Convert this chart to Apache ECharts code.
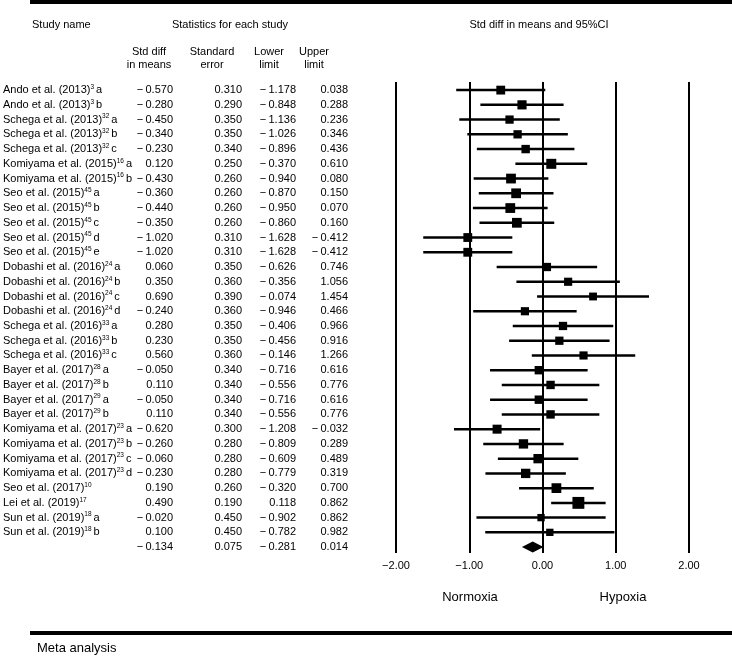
<!DOCTYPE html>
<html>
<head>
<meta charset="utf-8">
<script src="https://cdn.jsdelivr.net/npm/echarts@6/dist/echarts.min.js"></script>
<style>html,body{margin:0;padding:0;background:#fff}#c{width:732px;height:660px}</style>
</head>
<body>
<div id="c"></div>
<script>
// ---- data ----
var studyNames = ["Ando et al. (2013)","Ando et al. (2013)","Schega et al. (2013)","Schega et al. (2013)","Schega et al. (2013)",
  "Komiyama et al. (2015)","Komiyama et al. (2015)","Seo et al. (2015)","Seo et al. (2015)","Seo et al. (2015)","Seo et al. (2015)","Seo et al. (2015)",
  "Dobashi et al. (2016)","Dobashi et al. (2016)","Dobashi et al. (2016)","Dobashi et al. (2016)",
  "Schega et al. (2016)","Schega et al. (2016)","Schega et al. (2016)",
  "Bayer et al. (2017)","Bayer et al. (2017)","Bayer et al. (2017)","Bayer et al. (2017)",
  "Komiyama et al. (2017)","Komiyama et al. (2017)","Komiyama et al. (2017)","Komiyama et al. (2017)",
  "Seo et al. (2017)","Lei et al. (2019)","Sun et al. (2019)","Sun et al. (2019)"];
var studyRefs = ["3","3","32","32","32","16","16","45","45","45","45","45","24","24","24","24","33","33","33",
  "28","28","29","29","23","23","23","23","10","17","18","18"];
var studySuffix = ["a","b","a","b","c","a","b","a","b","c","d","e","a","b","c","d","a","b","c",
  "a","b","a","b","a","b","c","d","","","a","b"];
var stdDiff = [-0.570,-0.280,-0.450,-0.340,-0.230,0.120,-0.430,-0.360,-0.440,-0.350,-1.020,-1.020,
  0.060,0.350,0.690,-0.240,0.280,0.230,0.560,-0.050,0.110,-0.050,0.110,-0.620,-0.260,-0.060,-0.230,
  0.190,0.490,-0.020,0.100];
var stdErr = [0.310,0.290,0.350,0.350,0.340,0.250,0.260,0.260,0.260,0.260,0.310,0.310,
  0.350,0.360,0.390,0.360,0.350,0.350,0.360,0.340,0.340,0.340,0.340,0.300,0.280,0.280,0.280,
  0.260,0.190,0.450,0.450];
var lowerLimit = [-1.178,-0.848,-1.136,-1.026,-0.896,-0.370,-0.940,-0.870,-0.950,-0.860,-1.628,-1.628,
  -0.626,-0.356,-0.074,-0.946,-0.406,-0.456,-0.146,-0.716,-0.556,-0.716,-0.556,-1.208,-0.809,-0.609,-0.779,
  -0.320,0.118,-0.902,-0.782];
var upperLimit = [0.038,0.288,0.236,0.346,0.436,0.610,0.080,0.150,0.070,0.160,-0.412,-0.412,
  0.746,1.056,1.454,0.466,0.966,0.916,1.266,0.616,0.776,0.616,0.776,-0.032,0.289,0.489,0.319,
  0.700,0.862,0.862,0.982];
var summary = {stdDiff:-0.134, stdErr:0.075, lower:-0.281, upper:0.014};
var xTicks = [-2, -1, 0, 1, 2];

// ---- helpers ----
var FONT = "Liberation Sans, Arial, sans-serif";
function fmt(v, d) { return (v < 0 ? "\u2212\u2009" : "") + Math.abs(v).toFixed(d); }
function fmtTick(v) { return (v < 0 ? "\u2212" : "") + Math.abs(v).toFixed(2); }
var nRows = studyNames.length + 1;
var yAxisCfg = { type: 'value', inverse: true, min: -0.55, max: nRows - 0.6, show: false };

var studyRows = studyNames.map(function (n, i) {
  return [i, stdDiff[i], stdErr[i], lowerLimit[i], upperLimit[i]];
});

// table rows (text)
var tableRows = [];
studyNames.forEach(function (n, i) {
  tableRows.push({ row: i, name: n, ref: studyRefs[i], suf: studySuffix[i],
    vals: [stdDiff[i], stdErr[i], lowerLimit[i], upperLimit[i]] });
});
tableRows.push({ row: studyNames.length, name: null,
  vals: [summary.stdDiff, summary.stdErr, summary.lower, summary.upper] });

var colRight = [173, 242, 296, 348];
var NAME_X = 3;

var chart = echarts.init(document.getElementById('c'), null, { renderer: 'canvas' });

var option = {
  animation: false,
  backgroundColor: '#fff',
  grid: [
    { left: 396, top: 82, width: 293, height: 471 },
    { left: 0, top: 82, width: 360, height: 471 }
  ],
  xAxis: [
    { type: 'value', gridIndex: 0, min: -2, max: 2, interval: 1,
      axisLine: { show: false }, axisTick: { show: false },
      axisLabel: { margin: 7, color: '#000', fontFamily: FONT, fontSize: 11,
        formatter: fmtTick, customValues: xTicks },
      splitLine: { show: true, lineStyle: { color: '#000', width: 2 } } },
    { type: 'value', gridIndex: 1, min: 0, max: 360, show: false }
  ],
  yAxis: [
    Object.assign({ gridIndex: 0 }, yAxisCfg),
    Object.assign({ gridIndex: 1 }, yAxisCfg)
  ],
  series: [
    { type: 'custom', xAxisIndex: 0, yAxisIndex: 0,
      data: studyRows,
      renderItem: function (params, api) {
        var row = api.value(0), m = api.value(1), se = api.value(2), lo = api.value(3), hi = api.value(4);
        var pL = api.coord([lo, row]), pH = api.coord([hi, row]), pM = api.coord([m, row]);
        var s = 4 + 1.5 / se;
        return { type: 'group', children: [
          { type: 'line', shape: { x1: pL[0], y1: pL[1], x2: pH[0], y2: pH[1] },
            style: { stroke: '#000', lineWidth: 2.5 } },
          { type: 'rect', shape: { x: pM[0] - s / 2, y: pM[1] - s / 2, width: s, height: s },
            style: { fill: '#000' } }
        ] };
      } },
    { type: 'custom', xAxisIndex: 0, yAxisIndex: 0,
      data: [[studyNames.length, summary.stdDiff, summary.lower, summary.upper]],
      renderItem: function (params, api) {
        var row = api.value(0);
        var pM = api.coord([api.value(1), row]), pL = api.coord([api.value(2), row]), pH = api.coord([api.value(3), row]);
        var h = 5.5;
        return { type: 'polygon', shape: { points: [[pL[0], pM[1]], [pM[0], pM[1] - h], [pH[0], pM[1]], [pM[0], pM[1] + h]] },
          style: { fill: '#000' } };
      } },
    { type: 'custom', xAxisIndex: 1, yAxisIndex: 1,
      data: tableRows.map(function (r, i) { return [r.row, i]; }),
      renderItem: function (params, api) {
        var r = tableRows[api.value(1)];
        var children = [];
        var y = api.coord([0, r.row])[1];
        if (r.name) {
          var txt = '{n|' + r.name + '}' + (r.ref ? '{s|' + r.ref + '}' : '') + (r.suf ? '{n|' + r.suf + '}' : '');
          children.push({ type: 'text', x: api.coord([NAME_X, r.row])[0], y: y,
            style: { text: txt, textAlign: 'left', textVerticalAlign: 'middle',
              rich: { n: { fontFamily: FONT, fontSize: 11, fill: '#000', lineHeight: 13, verticalAlign: 'middle' },
                      s: { fontFamily: FONT, fontSize: 6.5, fill: '#000', lineHeight: 13, verticalAlign: 'top', padding: [0, 2, 0, 0] } } } });
        }
        r.vals.forEach(function (v, k) {
          children.push({ type: 'text', x: api.coord([colRight[k], r.row])[0], y: y,
            style: { text: fmt(v, 3), textAlign: 'right', textVerticalAlign: 'middle',
              font: '11px ' + FONT, fill: '#000' } });
        });
        return { type: 'group', children: children };
      } }
  ],
  graphic: [
    { type: 'rect', shape: { x: 30, y: 0, width: 702, height: 4 }, style: { fill: '#000' } },
    { type: 'rect', shape: { x: 30, y: 631, width: 702, height: 4 }, style: { fill: '#000' } },
    { type: 'text', x: 32, y: 25, style: { text: 'Study name', font: '11px ' + FONT, fill: '#000', textVerticalAlign: 'middle' } },
    { type: 'text', x: 230, y: 25, style: { text: 'Statistics for each study', font: '11px ' + FONT, fill: '#000', textAlign: 'center', textVerticalAlign: 'middle' } },
    { type: 'text', x: 539, y: 25, style: { text: 'Std diff in means and 95%CI', font: '11px ' + FONT, fill: '#000', textAlign: 'center', textVerticalAlign: 'middle' } },
    { type: 'text', x: 149, y: 58, style: { text: 'Std diff\nin means', font: '11px ' + FONT, lineHeight: 13, fill: '#000', textAlign: 'center', textVerticalAlign: 'middle' } },
    { type: 'text', x: 212, y: 58, style: { text: 'Standard\nerror', font: '11px ' + FONT, lineHeight: 13, fill: '#000', textAlign: 'center', textVerticalAlign: 'middle' } },
    { type: 'text', x: 269, y: 58, style: { text: 'Lower\nlimit', font: '11px ' + FONT, lineHeight: 13, fill: '#000', textAlign: 'center', textVerticalAlign: 'middle' } },
    { type: 'text', x: 314, y: 58, style: { text: 'Upper\nlimit', font: '11px ' + FONT, lineHeight: 13, fill: '#000', textAlign: 'center', textVerticalAlign: 'middle' } },
    { type: 'text', x: 470, y: 597, style: { text: 'Normoxia', font: '13px ' + FONT, fill: '#000', textAlign: 'center', textVerticalAlign: 'middle' } },
    { type: 'text', x: 623, y: 597, style: { text: 'Hypoxia', font: '13px ' + FONT, fill: '#000', textAlign: 'center', textVerticalAlign: 'middle' } },
    { type: 'text', x: 37, y: 648, style: { text: 'Meta analysis', font: '13px ' + FONT, fill: '#000', textVerticalAlign: 'middle' } }
  ]
};
chart.setOption(option);
</script>
</body>
</html>
